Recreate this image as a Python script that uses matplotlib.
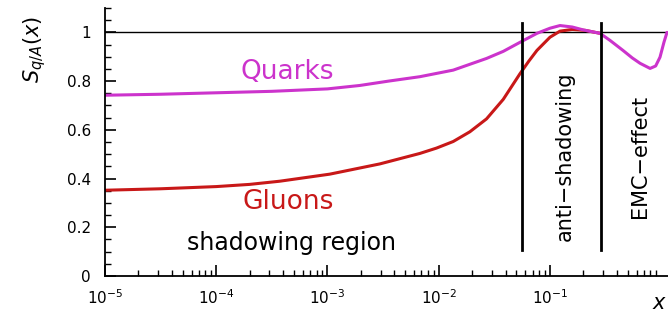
import numpy as np
import matplotlib
matplotlib.use("Agg")
import matplotlib.pyplot as plt
from matplotlib.ticker import MultipleLocator, LogLocator, NullFormatter

# Data (log10 x, S value)
quark_logx = [-5, -4.5, -4.0, -3.5, -3.0, -2.71, -2.45, -2.17, -1.87, -1.57, -1.42,
              -1.27, -1.117, -1.0, -0.91, -0.80, -0.70, -0.55, -0.46, -0.344, -0.26,
              -0.19, -0.10, -0.05, -0.011, 0.025, 0.052]
quark_s = [0.742, 0.746, 0.752, 0.758, 0.768, 0.782, 0.80, 0.818, 0.845, 0.893, 0.922,
           0.959, 0.996, 1.017, 1.028, 1.022, 1.01, 0.996, 0.967, 0.926, 0.895,
           0.873, 0.852, 0.862, 0.898, 0.96, 1.0]
gluon_logx = [-5, -4.5, -4.0, -3.7, -3.43, -2.98, -2.53, -2.17, -2.02, -1.87, -1.72,
              -1.57, -1.42, -1.27, -1.19, -1.117, -1.0, -0.91, -0.80, -0.68, -0.55]
gluon_s = [0.352, 0.358, 0.367, 0.376, 0.389, 0.418, 0.46, 0.503, 0.525, 0.552, 0.592,
           0.645, 0.725, 0.83, 0.882, 0.926, 0.98, 1.005, 1.012, 1.008, 0.996]
region_bounds = [0.056, 0.288]
ytick_vals = [0, 0.2, 0.4, 0.6, 0.8, 1.0]
ytick_labels = ["0", "0.2", "0.4", "0.6", "0.8", "1"]
xtick_vals = [1e-5, 1e-4, 1e-3, 1e-2, 1e-1]
xtick_labels = [r"$10^{-5}$", r"$10^{-4}$", r"$10^{-3}$", r"$10^{-2}$", r"$10^{-1}$"]

fig = plt.figure(figsize=(6.68, 3.13), dpi=100)
ax = fig.add_axes([105/668, 37/313, 1 - 105/668, 268/313])

ax.set_xscale("log")
ax.set_xlim(1e-5, 10**0.061)
ax.set_ylim(0, 1.1)

magenta = "#cc33cc"
red = "#c81818"

ax.plot(10**np.array(gluon_logx), gluon_s, color=red, lw=2.2,
        solid_capstyle="round", solid_joinstyle="round")
ax.plot(10**np.array(quark_logx), quark_s, color=magenta, lw=2.2,
        solid_capstyle="round", solid_joinstyle="round")

ax.axhline(1.0, color="black", lw=1.0, zorder=1)
for xb in region_bounds:
    ax.plot([xb, xb], [0.107, 1.04], color="black", lw=2.0)

for s in ["top", "right"]:
    ax.spines[s].set_visible(False)
ax.spines["left"].set_linewidth(1.3)
ax.spines["bottom"].set_linewidth(1.3)

ax.set_yticks(ytick_vals)
ax.set_yticklabels(ytick_labels)
ax.yaxis.set_minor_locator(MultipleLocator(0.05))
ax.set_xticks(xtick_vals)
ax.set_xticklabels(xtick_labels)
ax.xaxis.set_minor_locator(LogLocator(base=10, subs=np.arange(2, 10), numticks=20))
ax.xaxis.set_minor_formatter(NullFormatter())
ax.tick_params(axis="both", which="major", direction="in", length=8, width=1.2,
               labelsize=11)
ax.tick_params(axis="both", which="minor", direction="in", length=4, width=1.0)
ax.tick_params(axis="x", which="major", pad=9)
ax.tick_params(axis="y", which="major", pad=10)

ax.text(10**-3.36, 0.836, "Quarks", color=magenta, fontsize=19, ha="center", va="center")
ax.text(10**-3.35, 0.305, "Gluons", color=red, fontsize=19, ha="center", va="center")
ax.text(10**-3.32, 0.135, "shadowing region", color="black", fontsize=17,
        ha="center", va="center")
ax.text(10**-0.865, 0.49, "anti\u2212shadowing", color="black", fontsize=15,
        rotation=90, ha="center", va="center")
ax.text(10**-0.19, 0.49, "EMC\u2212effect", color="black", fontsize=15,
        rotation=90, ha="center", va="center")

fig.text(35/668, 1 - 50/313, r"$S_{q/A}(x)$", rotation=90, fontsize=15,
         ha="center", va="center")
fig.text(660/668, 1 - 303/313, r"$x$", fontsize=15, ha="center", va="center")

fig.savefig("out.png", dpi=100)
